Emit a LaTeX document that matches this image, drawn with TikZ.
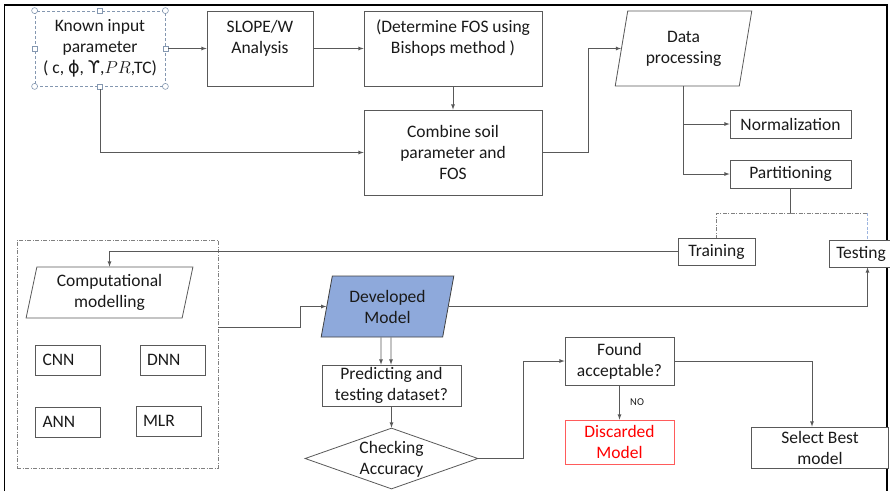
\documentclass[tikz,border=0pt]{standalone}
\usepackage{fontspec}
\setmainfont{Carlito}
\newfontfamily\grk{DejaVu Sans}
\usetikzlibrary{arrows,shapes}
\definecolor{lnc}{HTML}{595959}
\definecolor{txc}{HTML}{1A1A1A}
\definecolor{devblue}{HTML}{8EA9DB}
\definecolor{selc}{HTML}{8497B0}
\definecolor{discred}{HTML}{FF5B5B}
\definecolor{tstblue}{HTML}{9DB5E0}
\newcommand{\bxfont}{\fontsize{17.5}{21}\selectfont}
\tikzstyle{ocont}=[rectangle,draw=lnc,fill=white,line width=0.8pt,text=txc,align=center,inner sep=0pt,font=\bxfont]
\tikzstyle{opar}=[trapezium,trapezium stretches=true,draw=lnc,fill=white,line width=0.8pt,text=txc,align=center,inner sep=0pt,font=\bxfont]
\tikzstyle{olbl}=[text=txc,align=center,inner sep=0pt,font=\bxfont]
\tikzstyle{mbox}=[ocont,text width=51pt,inner xsep=7pt,minimum height=30pt,align=left]
\tikzstyle{hdl}=[draw=selc,fill=white,line width=0.6pt,inner sep=0pt]
\tikzstyle{dgraph}=[->,>=latex,draw=lnc,line width=0.8pt]

\begin{document}
\begin{tikzpicture}[dgraph,x=1pt,y=-1pt]
\useasboundingbox (0,0) rectangle (890,491);
\clip (0,0) rectangle (890,491);
\draw[-,black,line width=1.4pt] (4.5,491)--(4.5,5)--(887,5)--(887,491);
\node[ocont,draw=selc,dash pattern=on 3pt off 2pt,minimum width=130,minimum height=75] (known) at (100,48.5) {Known input\\parameter\\( c, {\grk ϕ}, {\grk ϒ},$PR$,TC)};
\node[ocont,minimum width=106,minimum height=75] (slope) at (260,48.5) {};
\node[olbl] (slopet) at (260,38) {SLOPE/W\\Analysis};
\node[ocont,minimum width=178,minimum height=75] (fos) at (453,48.5) {};
\node[olbl] (fost) at (453,38) {(Determine FOS using\\Bishops method )};
\node[ocont,minimum width=178,minimum height=85] (combine) at (453,152.5) {Combine soil\\parameter and\\FOS};
\node[opar,trapezium left angle=76.5,trapezium right angle=103.5,minimum width=137,minimum height=75] (data) at (683.5,48.5) {Data\\processing};
\node[ocont,minimum width=121,minimum height=28] (norm) at (790.5,124) {Normalization};
\node[ocont,minimum width=121,minimum height=28] (part) at (790.5,174) {Partitioning};
\node[ocont,minimum width=77,minimum height=27] (train) at (716.5,251.5) {Training};
\node[ocont,minimum width=77,minimum height=27] (test) at (867.5,253.5) {};
\node[olbl] (testt) at (861,253.5) {Testing};
\node[draw=gray,line width=0.8pt,dash pattern=on 4pt off 1.5pt on 1pt off 1.5pt,minimum width=201,minimum height=228,inner sep=0pt] (models) at (117.5,354) {};
\node[opar,trapezium left angle=77.8,trapezium right angle=102.2,minimum width=167,minimum height=51] (comp) at (109.5,292.5) {Computational\\modelling};
\node[mbox] (cnn) at (68,360) {CNN}; \node[mbox] (dnn) at (172.5,360) {DNN};
\node[mbox] (ann) at (68,422) {ANN}; \node[mbox] (mlr) at (168.5,421) {MLR};
\node[opar,trapezium left angle=77,trapezium right angle=103,fill=devblue,draw=black!75,minimum width=133,minimum height=61] (dev) at (387.5,306.5) {Developed\\Model};
\node[ocont,minimum width=139,minimum height=41] (pred) at (391.5,385.5) {Predicting and\\testing dataset?};
\node[diamond,draw=lnc,fill=white,line width=0.8pt,minimum width=173,minimum height=61,inner sep=0pt] (check) at (391.5,458.5) {};
\node[olbl] (checkt) at (391.5,459) {Checking\\Accuracy};
\node[ocont,minimum width=109,minimum height=48] (found) at (619.5,361) {Found\\acceptable?};
\node[ocont,draw=discred,text=red,minimum width=109,minimum height=44] (disc) at (619.5,442) {Discarded\\Model};
\node[ocont,minimum width=137,minimum height=41] (best) at (820,447.5) {Select Best\\model};
\node[hdl,circle,minimum size=6pt] (h1) at (known.north west) {}; \node[hdl,circle,minimum size=6pt] (h2) at (known.north east) {};
\node[hdl,circle,minimum size=6pt] (h3) at (known.south west) {}; \node[hdl,circle,minimum size=6pt] (h4) at (known.south east) {};
\node[hdl,minimum size=5pt] (h5) at (known.north) {}; \node[hdl,minimum size=5pt] (h6) at (known.south) {};
\node[hdl,minimum size=5pt] (h7) at (known.west) {}; \node[hdl,minimum size=5pt] (h8) at (known.east) {};
\draw (h8)--(slope.west);\draw (slope.east)--(fos.west);\draw (fos.south)--(combine.north);
\draw (h6)|-(combine.west);\draw (combine.east)--++(46,0)|-(data.west);
\draw (data.south)|-(norm.west);\draw (data.south)|-(part.west);
\draw[-] (part.south)--++(0,25) coordinate (split);
\draw[-,gray,dash pattern=on 4pt off 1.5pt on 1pt off 1.5pt] (split)-|(train.north);
\draw[-,gray,dash pattern=on 4pt off 1.5pt on 1pt off 1.5pt] (split)--(split-|test.north) coordinate (tsplit);
\draw[-,tstblue,dash pattern=on 3pt off 1.5pt] (tsplit)--(test.north);
\draw (train.west)-|(comp.north);
\draw ([yshift=27pt]models.east)--++(82,0)|-(dev.west);
\draw (dev.east)-|(test.south);
\draw ([xshift=-6.5pt]dev.south)--([xshift=-10.5pt]pred.north);\draw ([xshift=3.5pt]dev.south)--([xshift=-0.5pt]pred.north);
\draw (pred.south)--(check.north);
\draw (check.east)--++(45,0)|-(found.west);
\draw (found.south)--node[right=7pt,text=txc,font=\fontsize{10.5}{12}\selectfont] (no) {NO} (disc.north);
\draw (found.east)-|([xshift=-8pt]best.north);
\end{tikzpicture}
\end{document}
